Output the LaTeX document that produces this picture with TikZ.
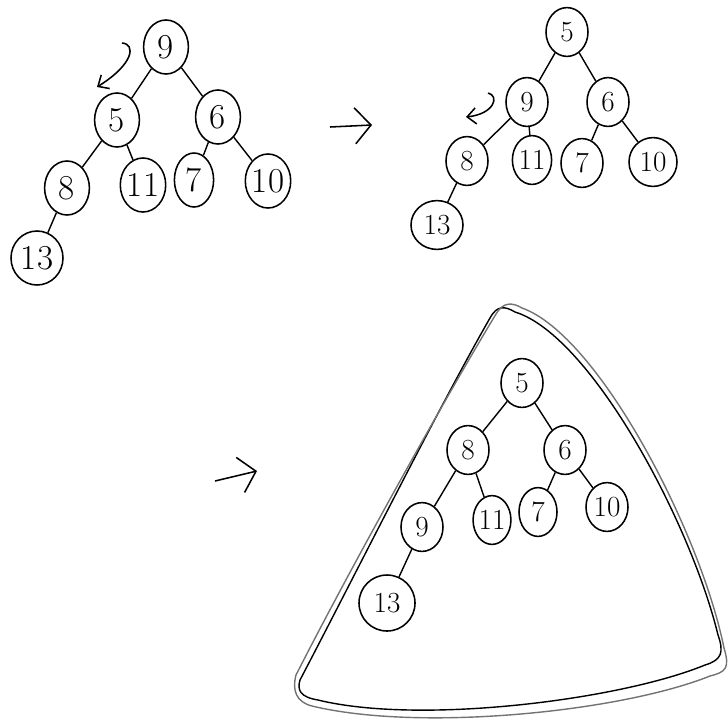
\documentclass[tikz,border=0pt]{standalone}
\usepackage{amsmath}
\usepackage{tikz}
\usetikzlibrary{shapes.geometric,arrows.meta}

\begin{document}
\begin{tikzpicture}[x=0.025cm,y=-0.025cm,
		heapnode/.style={ellipse,draw,line width=1.1pt,minimum width=1.12cm,minimum height=1.35cm,inner sep=0pt,font=\Huge},
		smallnode/.style={heapnode,minimum width=1.05cm,minimum height=1.22cm,font=\huge},
		edge/.style={line width=1pt},
		swap/.style={line width=1.1pt,-{Straight Barb[length=2.2mm,width=4mm]}},
		step arrow/.style={line width=1.1pt,-{Straight Barb[length=4mm,width=9mm]}},
		outline/.style={line width=1pt,line join=round}]
			\useasboundingbox (0,0) rectangle (728,724);
			% first heap: 9 sits at the root
			\node[heapnode] (a9) at (166,47) {9};
			\node[heapnode] (a5) at (117,120) {5};
			\node[heapnode] (a6) at (218,117) {6};
			\node[heapnode] (a8) at (67,188) {8};
			\node[heapnode,minimum width=0.98cm] (a11) at (143,185) {11};
			\node[heapnode,minimum width=0.98cm] (a7) at (194,180) {7};
			\node[heapnode] (a10) at (268,181) {10};
			\node[heapnode,minimum width=1.3cm] (a13) at (37,258) {13};
			\draw[edge] (a9) -- (a5);
			\draw[edge] (a9) -- (a6);
			\draw[edge] (a5) -- (a8);
			\draw[edge] (a5) -- (a11);
			\draw[edge] (a6) -- (a7);
			\draw[edge] (a6) -- (a10);
			\draw[edge] (a8) -- (a13);
			\coordinate (sa) at (122,43);
			\coordinate (ea) at (97,87);
			\draw[swap] (sa) .. controls (136,44) and (134,64) .. (ea);

			\coordinate (p1) at (330,127);
			\coordinate (q1) at (372,125);
			\draw[step arrow] (p1) -- (q1);

			% second heap: 9 moved one level down
			\node[smallnode] (b5) at (567,32) {5};
			\node[smallnode] (b9) at (527,102) {9};
			\node[smallnode] (b6) at (608,102) {6};
			\node[smallnode] (b8) at (467,161) {8};
			\node[smallnode,minimum width=0.98cm] (b11) at (532,160) {11};
			\node[smallnode] (b7) at (582,163) {7};
			\node[smallnode,minimum width=1.2cm] (b10) at (653,162) {10};
			\node[smallnode,minimum width=1.3cm] (b13) at (437,225) {13};
			\draw[edge] (b5) -- (b9);
			\draw[edge] (b5) -- (b6);
			\draw[edge] (b9) -- (b8);
			\draw[edge] (b9) -- (b11);
			\draw[edge] (b6) -- (b7);
			\draw[edge] (b6) -- (b10);
			\draw[edge] (b8) -- (b13);
			\coordinate (sb) at (488,93);
			\coordinate (eb) at (466,117);
			\draw[swap] (sb) .. controls (500,96) and (494,114) .. (eb);

			\coordinate (p2) at (215,481);
			\coordinate (q2) at (257,471);
			\draw[step arrow] (p2) -- (q2);

			% third heap: done, wrapped in a triangle
			\node[smallnode] (c5) at (522,383) {5};
			\node[smallnode] (c8) at (468,450) {8};
			\node[smallnode] (c6) at (565,450) {6};
			\node[smallnode] (c9) at (422,527) {9};
			\node[smallnode,minimum width=0.92cm] (c11) at (492,520) {11};
			\node[smallnode,minimum width=0.95cm] (c7) at (538,512) {7};
			\node[smallnode] (c10) at (607,507) {10};
			\node[smallnode,minimum width=1.4cm,minimum height=1.4cm] (c13) at (387,603) {13};
			\draw[edge] (c5) -- (c8);
			\draw[edge] (c5) -- (c6);
			\draw[edge] (c8) -- (c9);
			\draw[edge] (c8) -- (c11);
			\draw[edge] (c6) -- (c7);
			\draw[edge] (c6) -- (c10);
			\draw[edge] (c9) -- (c13);
			\draw[outline] (300,680) .. controls (355,575) and (440,405) .. (490,318)
				.. controls (497,305) and (505,306) .. (515,312)
				.. controls (590,335) and (690,520) .. (718,635)
				.. controls (724,652) and (722,660) .. (705,665)
				.. controls (620,700) and (420,725) .. (318,700)
				.. controls (300,697) and (297,690) .. cycle;
			\draw[outline,black!55] (296,675) .. controls (352,565) and (444,400) .. (496,314)
				.. controls (503,302) and (512,302) .. (522,308)
				.. controls (598,335) and (700,530) .. (724,648)
				.. controls (730,668) and (726,672) .. (710,676)
				.. controls (620,712) and (420,732) .. (312,706)
				.. controls (296,702) and (292,690) .. cycle;
		\end{tikzpicture}
\end{document}
